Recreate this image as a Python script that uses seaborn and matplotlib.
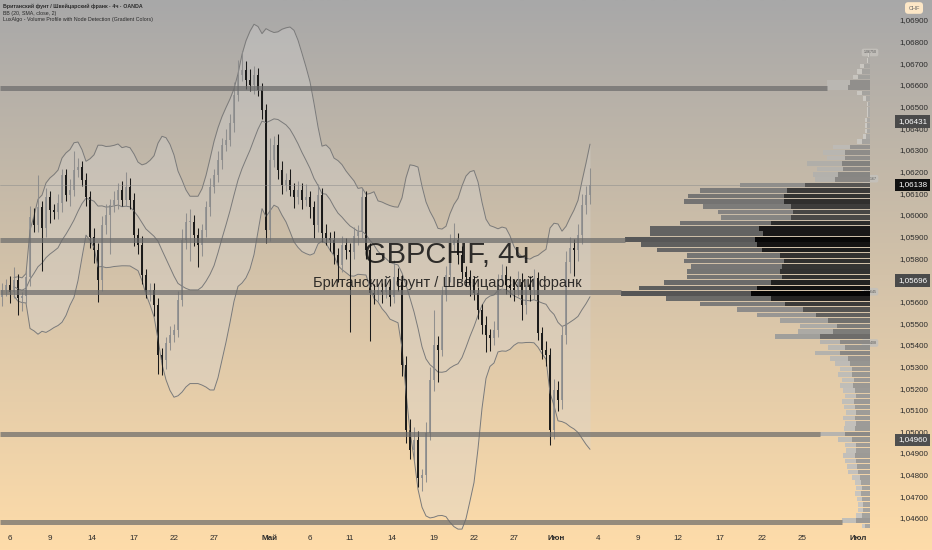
import numpy as np
import pandas as pd
import matplotlib.pyplot as plt
import seaborn as sns
from matplotlib.colors import to_rgb

# GBPCHF 4h candles (close, wick lengths in pips)
first_open = 1.05620
closes = [
    1.05653, 1.05676, 1.05644, 1.05699, 1.05616, 1.05625, 1.05713, 1.05990, 1.05953, 1.06036,
    1.05939, 1.06082, 1.06022, 1.06013, 1.06055, 1.06184, 1.06092, 1.06115, 1.06207, 1.06221,
    1.06161, 1.06082, 1.05898, 1.05838, 1.05699, 1.05953, 1.05999, 1.06045, 1.06069, 1.06115,
    1.06069, 1.06129, 1.06069, 1.05907, 1.05861, 1.05722, 1.05644, 1.05653, 1.05584, 1.05353,
    1.05330, 1.05408, 1.05445, 1.05468, 1.05607, 1.05884, 1.05967, 1.05967, 1.05907, 1.05861,
    1.05930, 1.06036, 1.06129, 1.06184, 1.06253, 1.06323, 1.06346, 1.06424, 1.06554, 1.06646,
    1.06669, 1.06623, 1.06600, 1.06646, 1.06577, 1.06484, 1.05930, 1.06253, 1.06323, 1.06207,
    1.06138, 1.06161, 1.06115, 1.06082, 1.06115, 1.06069, 1.06082, 1.06036, 1.05953, 1.06092,
    1.05916, 1.05893, 1.05884, 1.05815, 1.05768, 1.05861, 1.05838, 1.05828, 1.05902, 1.05921,
    1.06082, 1.05838, 1.05639, 1.05630, 1.05653, 1.05644, 1.05667, 1.05621, 1.05713, 1.05690,
    1.05306, 1.05006, 1.04914, 1.04960, 1.04785, 1.04798, 1.04992, 1.05237, 1.05399, 1.05376,
    1.05630, 1.05722, 1.05861, 1.05884, 1.05815, 1.05736, 1.05713, 1.05676, 1.05639, 1.05560,
    1.05491, 1.05445, 1.05431, 1.05468, 1.05699, 1.05722, 1.05676, 1.05662, 1.05653, 1.05690,
    1.05584, 1.05676, 1.05653, 1.05708, 1.05454, 1.05376, 1.05353, 1.05006, 1.05191, 1.05145,
    1.05445, 1.05782, 1.05847, 1.05838, 1.05907, 1.06045, 1.06092, 1.06138,
]
up_wick = [
    3, 3, 4, 6, 3, 2, 3, 5, 4, 15,
    3, 4, 3, 3, 4, 3, 3, 5, 9, 4,
    3, 3, 3, 4, 3, 4, 5, 3, 4, 3,
    4, 7, 4, 3, 3, 4, 3, 3, 3, 3,
    3, 3, 4, 3, 4, 5, 4, 6, 3, 3,
    3, 3, 4, 3, 4, 3, 5, 4, 6, 7,
    9, 4, 5, 4, 3, 3, 3, 10, 4, 5,
    4, 3, 5, 3, 4, 3, 6, 3, 3, 5,
    3, 4, 3, 4, 3, 4, 3, 3, 4, 3,
    4, 3, 3, 4, 3, 3, 5, 3, 8, 4,
    3, 4, 5, 6, 4, 3, 5, 6, 16, 4,
    4, 4, 5, 8, 3, 4, 3, 3, 4, 3,
    3, 4, 3, 4, 3, 5, 4, 4, 4, 5,
    4, 3, 4, 4, 3, 3, 4, 3, 5, 4,
    4, 5, 5, 4, 5, 5, 4, 8,
]
down_wick = [
    4, 3, 5, 3, 8, 6, 3, 4, 3, 3,
    20, 4, 6, 3, 3, 4, 3, 5, 3, 3,
    3, 4, 5, 6, 10, 5, 4, 18, 3, 4,
    3, 3, 4, 5, 4, 4, 3, 4, 5, 9,
    7, 4, 3, 3, 3, 3, 4, 18, 5, 10,
    5, 3, 4, 3, 3, 4, 3, 3, 4, 3,
    3, 4, 3, 4, 3, 4, 6, 5, 3, 4,
    4, 3, 3, 5, 3, 4, 3, 5, 6, 3,
    4, 3, 5, 4, 8, 3, 4, 37, 3, 4,
    3, 4, 22, 4, 3, 5, 3, 4, 3, 4,
    5, 6, 4, 5, 4, 6, 3, 3, 5, 15,
    3, 3, 3, 3, 4, 3, 4, 5, 3, 4,
    4, 8, 6, 3, 3, 3, 4, 4, 5, 3,
    7, 4, 5, 4, 3, 4, 5, 7, 4, 5,
    4, 4, 5, 12, 5, 4, 4, 4,
]

date_labels = ['6', '9', '14', '17', '22', '27', 'Май', '6', '11', '14', '19',
               '22', '27', 'Июн', '4', '9', '12', '17', '22', '25', 'Июл']
date_candles = [2, 12, 22.5, 33, 43, 53, 67, 77, 87, 97.5, 108,
                118, 128, 138.5, 149, 159, 169, 179.5, 190, 200, 214]
month_labels = ['Май', 'Июн', 'Июл']

# volume profile rows, top row starts at 1.0675, 0.00025 per row
profile_top = 1.0675
profile_step = 0.00025
profile_total = [
    2, 3, 10, 13, 17, 43, 43, 13, 7, 3,
    3, 3, 5, 5, 5, 7, 13, 37, 47, 43,
    63, 53, 57, 55, 130, 170, 182, 186, 167, 152,
    149, 190, 220, 220, 245, 229, 213, 183, 186, 179,
    183, 183, 206, 231, 249, 204, 170, 133, 113, 90,
    70, 72, 95, 50, 42, 55, 40, 35, 30, 32,
    28, 30, 27, 25, 28, 26, 24, 27, 25, 26,
    50, 32, 25, 24, 27, 25, 23, 22, 18, 15,
    14, 15, 13, 12, 12, 14, 28, 8,
]
profile_dark = [
    1, 2, 6, 8, 12, 20, 22, 8, 4, 2,
    2, 2, 3, 3, 3, 4, 8, 20, 25, 25,
    28, 27, 32, 35, 65, 83, 86, 86, 79, 77,
    79, 99, 111, 107, 115, 113, 108, 90, 86, 88,
    90, 88, 99, 113, 119, 99, 85, 67, 54, 42,
    33, 37, 50, 30, 25, 30, 22, 20, 18, 18,
    16, 17, 15, 14, 16, 15, 14, 15, 14, 15,
    25, 18, 14, 14, 15, 14, 13, 12, 10, 9,
    8, 9, 8, 7, 7, 8, 14, 5,
]

node_levels = [1.06586, 1.05884, 1.05644, 1.04988, 1.04581]
node_tags = [1.06750, 1.06167, 1.05645, 1.05408]
last_price = 1.06138
tag_prices = [1.06431, 1.06138, 1.05696, 1.04960]
tag_colors = ['#4a4a4a', '#111111', '#4a4a4a', '#4f4f4f']


def mix(c0, c1, t):
    a, b = np.array(to_rgb(c0)), np.array(to_rgb(c1))
    return tuple(a + (b - a) * t)


def main():
    sns.set_style('white')
    plt.rcParams['font.family'] = ['Liberation Sans', 'DejaVu Sans']

    fig = plt.figure(figsize=(9.32, 5.5), dpi=100)

    # gradient backdrop, grey at the top to peach at the bottom
    bg = fig.add_axes([0, 0, 1, 1], zorder=-5)
    t = np.linspace(0, 1, 256)[:, None, None]
    top, bottom = np.array(to_rgb('#a8a8a8')), np.array(to_rgb('#fedcaa'))
    bg.imshow(top + (bottom - top) * t, aspect='auto', extent=[0, 1, 0, 1])
    bg.set_axis_off()

    ax = fig.add_axes([0, 20 / 550, 870 / 932, 530 / 550])
    ax.patch.set_alpha(0)

    df = pd.DataFrame({'close': closes})
    df['i'] = np.arange(len(df))
    df['open'] = [first_open] + closes[:-1]
    df['high'] = df[['open', 'close']].max(axis=1) + np.array(up_wick) * 1e-4
    df['low'] = df[['open', 'close']].min(axis=1) - np.array(down_wick) * 1e-4

    roll = df['close'].rolling(15, min_periods=4)
    df['basis'] = roll.mean()
    df['upper'] = df['basis'] + 2 * roll.std(ddof=0)
    df['lower'] = df['basis'] - 2 * roll.std(ddof=0)

    ax.fill_between(df['i'], df['lower'], df['upper'], color='#d8d8d8', alpha=0.3, lw=0)
    for col in ['upper', 'basis', 'lower']:
        sns.lineplot(data=df, x='i', y=col, ax=ax, color='#7a7a7a', lw=0.7)

    up = df['close'] >= df['open']
    ax.vlines(df['i'][up], df['low'][up], df['high'][up], color='#8a8a8a', lw=0.75, alpha=0.9)
    ax.vlines(df['i'][~up], df['low'][~up], df['high'][~up], color='#1a1a1a', lw=0.75)
    body = (df['close'] - df['open']).abs().clip(lower=0.00003)
    ax.bar(df['i'], body, bottom=df[['open', 'close']].min(axis=1), width=0.72,
           color=np.where(up, '#969696', '#141414'), alpha=0.95, lw=0)

    ax.axhline(last_price, color='#8a8a8a', lw=0.5, alpha=0.7, xmax=0.99)

    ax.set_xlim(-0.5, 217)
    ax.set_ylim(1.069 - 510 / 21650, 1.069 + 20 / 21650)

    # volume profile on a twin axis growing from the right edge
    ax2 = ax.twiny()
    ax2.set_xlim(870, 0)
    total = np.array(profile_total)
    dark = np.array(profile_dark)
    centers = profile_top - profile_step * (np.arange(len(total)) + 0.5)
    strength = total / total.max()
    light_cols = [mix('#cfccc6', '#555555', s) for s in strength]
    dark_cols = [mix('#aeaca8', '#050505', s) for s in strength]
    ax2.barh(centers, total, height=profile_step * 0.85, color=light_cols, lw=0)
    ax2.barh(centers, dark, height=profile_step * 0.85, color=dark_cols, lw=0)
    for lvl in node_levels:
        k = int((profile_top - lvl) / profile_step)
        ax2.hlines(lvl, total[k], 870, color='#6a6a6a', lw=3.6, alpha=0.7)
    ax2.set_xticks([])
    for s in ax2.spines.values():
        s.set_visible(False)

    for p in node_tags:
        ax.text(1.0, p, f'{p:.5f}', transform=ax.get_yaxis_transform(), fontsize=2.6,
                color='#555555', ha='center', va='center',
                bbox=dict(boxstyle='round,pad=0.5', fc='#c4c1bb', ec='none', alpha=0.9))

    # axes, ticks and labels
    for s in ax.spines.values():
        s.set_visible(False)
    ax.set_xlabel('')
    ax.set_ylabel('')
    ax.yaxis.tick_right()
    ticks = np.round(np.arange(1.046, 1.0695, 0.001), 3)
    ax.set_yticks(ticks)
    ax.set_yticklabels([f'{v:.5f}'.replace('.', ',') for v in ticks])
    ax.tick_params(axis='y', length=0, pad=21, labelsize=5.8, labelcolor='#2b2b2b')
    ax.set_xticks(date_candles)
    ax.set_xticklabels(date_labels)
    ax.tick_params(axis='x', length=0, pad=3.5, labelsize=5.8, labelcolor='#2b2b2b')
    for lab in ax.get_xticklabels():
        if lab.get_text() in month_labels:
            lab.set_fontweight('bold')

    for p, c in zip(tag_prices, tag_colors):
        ax.text(1.0322, p, f'{p:.5f}'.replace('.', ','), transform=ax.get_yaxis_transform(),
                fontsize=5.8, color='white', ha='left', va='center',
                bbox=dict(boxstyle='square,pad=0.35', fc=c, ec='none'))

    fig.text(914 / 932, 1 - 8 / 550, 'CHF', fontsize=4, color='#666666', ha='center', va='center',
             bbox=dict(boxstyle='round,pad=0.6', fc='#fde7c6', ec='none'))

    legend = ['Британский фунт / Швейцарский франк · 4ч · OANDA',
              'BB (20, SMA, close, 2)',
              'LuxAlgo - Volume Profile with Node Detection (Gradient Colors)']
    for k, line in enumerate(legend):
        fig.text(3 / 932, 1 - (6 + 7 * k) / 550, line, fontsize=3.8, color='#2a2a2a',
                 va='center', fontweight='bold' if k == 0 else 'normal')

    fig.text(447 / 932, 1 - 255 / 550, 'GBPCHF, 4ч', fontsize=21, color='#111111',
             alpha=0.85, ha='center', va='center')
    fig.text(447 / 932, 1 - 283 / 550, 'Британский фунт / Швейцарский франк', fontsize=10.5,
             color='#111111', alpha=0.85, ha='center', va='center')

    fig.savefig('out.png', dpi=100)


if __name__ == '__main__':
    main()
